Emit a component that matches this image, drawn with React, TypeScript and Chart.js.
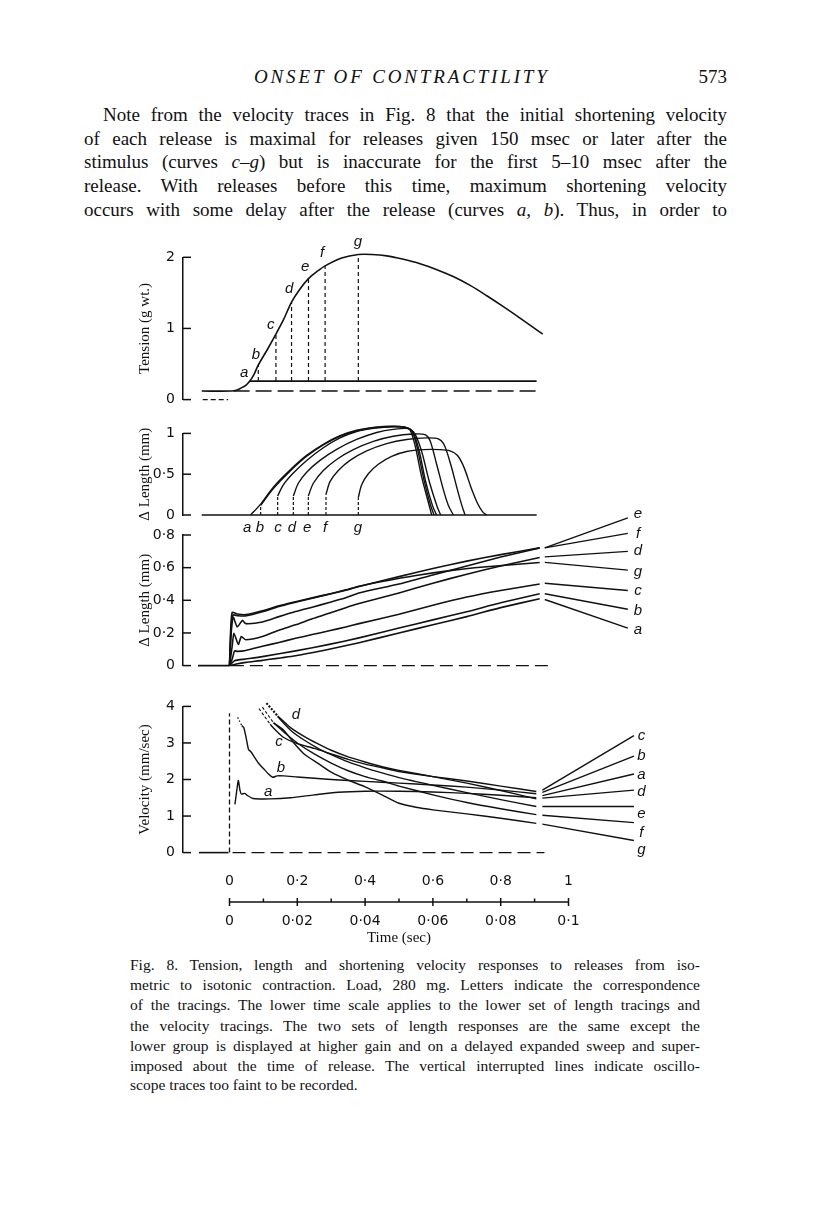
import React, { useEffect, useRef } from 'react';
import { Chart, registerables } from 'chart.js';

Chart.register(...registerables);

type Pt = [number, number];

const INK = '#111111';
const SANS = '"DejaVu Sans", "Liberation Sans", Arial, sans-serif';
const LETTER_SANS = '"Liberation Sans", Arial, sans-serif';
const SERIF = '"Liberation Serif", "Times New Roman", serif';

const curveLetters = ['a', 'b', 'c', 'd', 'e', 'f', 'g'];

// ================= Panel 1: Tension (g wt.)  — upper time scale (sec) =================
const tensionTicks = [0, 1, 2];
const tensionTrace: Pt[] = [
  [-0.082, 0.12], [0.005, 0.12], [0.02, 0.13], [0.035, 0.165], [0.048, 0.2], [0.06, 0.26],
  [0.072, 0.35], [0.085, 0.487], [0.11, 0.69], [0.134, 0.896], [0.159, 1.12], [0.183, 1.37],
  [0.208, 1.555], [0.233, 1.7], [0.258, 1.8], [0.282, 1.88], [0.331, 1.99], [0.38, 2.04],
  [0.42, 2.04], [0.464, 2.02], [0.51, 1.975], [0.562, 1.91], [0.61, 1.83], [0.66, 1.73],
  [0.71, 1.605], [0.759, 1.46], [0.81, 1.3], [0.857, 1.146], [0.924, 0.92],
];
const tensionLoadLine: Pt[] = [[0.06, 0.26], [0.906, 0.26]];
const tensionRestLine: Pt[] = [[0.012, 0.12], [0.911, 0.12]];
const tensionZeroLine: Pt[] = [[-0.079, 0], [-0.004, 0]];
const tensionLoadLevel = 0.26;
const tensionReleaseT = [0.085, 0.137, 0.183, 0.233, 0.282, 0.38];
const tensionReleaseTop = [0.487, 0.93, 1.37, 1.7, 1.88, 2.04];
const tensionLabelT = [0.043, 0.078, 0.122, 0.176, 0.223, 0.273, 0.379];
const tensionLabelV = [0.38, 0.63, 1.05, 1.56, 1.86, 2.06, 2.22];

// ================= Panel 2: Δ Length (mm) — upper time scale =================
const upLenTicks = [0, 0.5, 1];
const upLenBaseline: Pt[] = [[-0.082, 0], [0.906, 0]];
const upLenA: Pt[] = [[0.0624, 0], [0.09, 0.124], [0.1293, 0.342], [0.1785, 0.552], [0.2276, 0.731], [0.2768, 0.867], [0.326, 0.972], [0.3751, 1.038], [0.4243, 1.074], [0.4833, 1.089], [0.5177, 1.077], [0.5324, 1.042], [0.5472, 0.856], [0.5669, 0.467], [0.5865, 0.156], [0.5964, 0]];
const upLenB: Pt[] = [[0.0919, 0.117], [0.1293, 0.323], [0.1785, 0.537], [0.2276, 0.72], [0.2768, 0.86], [0.326, 0.965], [0.3751, 1.031], [0.4243, 1.07], [0.4833, 1.085], [0.5226, 1.07], [0.5393, 1.019], [0.5541, 0.817], [0.5738, 0.428], [0.5934, 0.117], [0.6033, 0]];
const upLenC: Pt[] = [[0.1421, 0.2335], [0.1588, 0.3696], [0.1883, 0.5135], [0.2276, 0.669], [0.2768, 0.8246], [0.326, 0.9452], [0.3751, 1.023], [0.4243, 1.062], [0.4833, 1.081], [0.5256, 1.066], [0.5423, 1.004], [0.559, 0.7974], [0.5787, 0.4084], [0.5993, 0.109], [0.6111, 0]];
const upLenD: Pt[] = [[0.1883, 0.2335], [0.203, 0.389], [0.2276, 0.525], [0.2669, 0.669], [0.3161, 0.805], [0.3751, 0.9258], [0.4342, 1.0113], [0.4833, 1.05], [0.5276, 1.058], [0.5472, 0.992], [0.5669, 0.778], [0.5895, 0.408], [0.6129, 0.097], [0.6229, 0]];
const upLenE: Pt[] = [[0.2325, 0.2335], [0.2473, 0.389], [0.2768, 0.5446], [0.3161, 0.6807], [0.3653, 0.8013], [0.4243, 0.9024], [0.4833, 0.9646], [0.5423, 0.992], [0.5767, 0.984], [0.5914, 0.914], [0.611, 0.6224], [0.6308, 0.3112], [0.6457, 0.117], [0.6603, 0]];
const upLenF: Pt[] = [[0.2846, 0.2529], [0.2965, 0.4084], [0.321, 0.5446], [0.3554, 0.669], [0.4046, 0.7857], [0.4636, 0.8752], [0.5226, 0.9257], [0.5816, 0.9452], [0.616, 0.9335], [0.6328, 0.8636], [0.6524, 0.6224], [0.6722, 0.3112], [0.6849, 0.1246], [0.6948, 0]];
const upLenG: Pt[] = [[0.38, 0.214], [0.3899, 0.3696], [0.4095, 0.5057], [0.439, 0.6224], [0.4784, 0.7196], [0.5226, 0.778], [0.5718, 0.8013], [0.6209, 0.8013], [0.6504, 0.7858], [0.6721, 0.7313], [0.6918, 0.5835], [0.7114, 0.3501], [0.7311, 0.1478], [0.7468, 0.0389], [0.7586, 0]];
const upLenReleaseT = [0.0919, 0.1421, 0.1883, 0.2325, 0.2846, 0.38];
const upLenReleaseV = [0.117, 0.2335, 0.2335, 0.2335, 0.2529, 0.214];
const upLenLabelT = [0.052, 0.09, 0.143, 0.184, 0.229, 0.282, 0.379];
const upLenLabelV = -0.155;

// ================= Panel 3: Δ Length (mm) — lower time scale (sec) =================
const lowLenTicks = [0, 0.2, 0.4, 0.6, 0.8];
const lowLenBaseline: Pt[] = [[-0.0093, 0], [0, 0]];
const lowLenDashed: Pt[] = [[0.0004, 0], [0.094, 0]];
const lowLenA: Pt[] = [[0, 0], [0.002, 0.01], [0.0048, 0.02], [0.0097, 0.032], [0.0195, 0.06], [0.0294, 0.1], [0.0382, 0.14], [0.05, 0.2], [0.06, 0.25], [0.07, 0.3], [0.08, 0.355], [0.0915, 0.41]];
const lowLenB: Pt[] = [[0, 0], [0.0015, 0.03], [0.0048, 0.04], [0.0097, 0.055], [0.0195, 0.09], [0.0294, 0.13], [0.0382, 0.17], [0.05, 0.23], [0.06, 0.28], [0.07, 0.33], [0.08, 0.385], [0.0915, 0.44]];
const lowLenC: Pt[] = [[0, 0], [0.0008, 0.04], [0.0015, 0.09], [0.0023, 0.087], [0.0048, 0.093], [0.0097, 0.118], [0.0146, 0.142], [0.0195, 0.167], [0.0244, 0.19], [0.0294, 0.213], [0.0343, 0.237], [0.0382, 0.257], [0.05, 0.315], [0.06, 0.37], [0.07, 0.42], [0.08, 0.46], [0.0915, 0.5]];
const lowLenD: Pt[] = [[0, 0], [0.0008, 0.12], [0.0013, 0.198], [0.0026, 0.13], [0.0035, 0.178], [0.0048, 0.158], [0.0097, 0.178], [0.0146, 0.217], [0.0195, 0.25], [0.0244, 0.287], [0.0294, 0.32], [0.0343, 0.355], [0.0382, 0.38], [0.05, 0.445], [0.06, 0.505], [0.07, 0.56], [0.08, 0.61], [0.0915, 0.662]];
const lowLenE: Pt[] = [[0, 0], [0.0005, 0.2], [0.0011, 0.296], [0.0023, 0.237], [0.0038, 0.277], [0.0048, 0.257], [0.0097, 0.267], [0.0146, 0.3], [0.0195, 0.331], [0.0244, 0.358], [0.0294, 0.386], [0.0343, 0.415], [0.0382, 0.445], [0.05, 0.5], [0.06, 0.555], [0.07, 0.61], [0.08, 0.665], [0.0915, 0.721]];
const lowLenF: Pt[] = [[0, 0], [0.0004, 0.2], [0.001, 0.31], [0.0025, 0.305], [0.005, 0.305], [0.0097, 0.33], [0.0146, 0.362], [0.0195, 0.388], [0.0244, 0.413], [0.0294, 0.437], [0.0343, 0.462], [0.0382, 0.484], [0.05, 0.545], [0.06, 0.595], [0.07, 0.64], [0.08, 0.68], [0.0915, 0.721]];
const lowLenG: Pt[] = [[0, 0], [0.00035, 0.22], [0.0008, 0.326], [0.0023, 0.316], [0.0048, 0.312], [0.0097, 0.336], [0.0146, 0.366], [0.0195, 0.391], [0.0244, 0.415], [0.0294, 0.439], [0.0343, 0.464], [0.0382, 0.486], [0.045, 0.515], [0.055, 0.552], [0.065, 0.582], [0.075, 0.604], [0.0915, 0.632]];
const lowLenFanT = [0.093, 0.1175];
const lowLenFanStart = [0.405, 0.44, 0.504, 0.666, 0.721, 0.721, 0.632];
const lowLenFanEnd = [0.23, 0.345, 0.46, 0.7, 0.905, 0.81, 0.585];
const lowLenLabelT = 0.1205;
const lowLenLabelV = [0.22, 0.337, 0.46, 0.7, 0.93, 0.81, 0.575];

// ================= Panel 4: Velocity (mm/sec) — lower time scale =================
const velTicks = [0, 1, 2, 3, 4];
const velBaseline: Pt[] = [[-0.009, 0], [-0.0003, 0]];
const velDashedBase: Pt[] = [[0.0009, 0], [0.0929, 0]];
const velReleaseLine: Pt[] = [[0, 0], [0, 3.81]];
const velLeader1: Pt[] = [[0.0087, 3.94], [0.012, 3.51]];
const velLeader2: Pt[] = [[0.0097, 3.98], [0.013, 3.55]];
const velLeader3: Pt[] = [[0.0109, 4.09], [0.0142, 3.74]];
const velLeaderB: Pt[] = [[0.0024, 3.7], [0.0036, 3.48]];
const velA: Pt[] = [[0.0016, 1.32], [0.002, 1.6], [0.0026, 1.97], [0.0031, 1.7], [0.0035, 1.6], [0.0045, 1.62], [0.0055, 1.55], [0.007, 1.48], [0.012, 1.47], [0.018, 1.5], [0.025, 1.58], [0.032, 1.65], [0.04, 1.68], [0.05, 1.68], [0.06, 1.66], [0.07, 1.62], [0.08, 1.57], [0.0905, 1.5]];
const velB: Pt[] = [[0.0036, 3.48], [0.0042, 3.42], [0.005, 3.1], [0.0056, 2.82], [0.0063, 2.76], [0.0073, 2.62], [0.0085, 2.45], [0.01, 2.3], [0.0115, 2.15], [0.0128, 2.06], [0.014, 2.1], [0.016, 2.1], [0.02, 2.07], [0.03, 2.0], [0.04, 1.95], [0.05, 1.9], [0.06, 1.85], [0.07, 1.79], [0.08, 1.71], [0.0905, 1.61]];
const velC: Pt[] = [[0.012, 3.51], [0.0135, 3.36], [0.016, 3.15], [0.02, 2.98], [0.025, 2.85], [0.03, 2.7], [0.035, 2.55], [0.04, 2.42], [0.045, 2.32], [0.05, 2.22], [0.06, 2.08], [0.07, 1.96], [0.08, 1.82], [0.0905, 1.67]];
const velD: Pt[] = [[0.0142, 3.74], [0.018, 3.42], [0.022, 3.18], [0.026, 2.98], [0.03, 2.8], [0.035, 2.62], [0.04, 2.48], [0.045, 2.35], [0.05, 2.25], [0.06, 2.08], [0.07, 1.9], [0.08, 1.7], [0.0905, 1.47]];
const velE: Pt[] = [[0.0142, 3.72], [0.018, 3.35], [0.022, 3.08], [0.026, 2.86], [0.03, 2.68], [0.035, 2.48], [0.04, 2.32], [0.045, 2.18], [0.05, 2.05], [0.06, 1.84], [0.07, 1.64], [0.08, 1.45], [0.0905, 1.26]];
const velF: Pt[] = [[0.013, 3.55], [0.016, 3.3], [0.02, 3.0], [0.025, 2.7], [0.03, 2.45], [0.035, 2.24], [0.04, 2.08], [0.045, 1.96], [0.05, 1.82], [0.06, 1.58], [0.07, 1.37], [0.08, 1.2], [0.0905, 1.04]];
const velG: Pt[] = [[0.013, 3.55], [0.016, 3.35], [0.019, 3.0], [0.022, 2.7], [0.026, 2.45], [0.03, 2.2], [0.035, 1.98], [0.04, 1.8], [0.045, 1.58], [0.05, 1.35], [0.055, 1.24], [0.06, 1.17], [0.07, 1.06], [0.08, 0.94], [0.0905, 0.8]];
const velFanT = [0.0923, 0.1193];
const velFanStart = [1.56, 1.65, 1.71, 1.49, 1.26, 1.02, 0.78];
const velFanEnd = [2.15, 2.64, 3.2, 1.71, 1.26, 0.82, 0.33];
const velLabelT = 0.1215;
const velLabelV = [2.12, 2.64, 3.2, 1.65, 1.06, 0.54, 0.07];
const velInnerLabelT = [0.0114, 0.0152, 0.0146, 0.0196];
const velInnerLabelV = [1.65, 2.31, 3.02, 3.76];

// ================= Time scales =================
const upperTimeTicks = [0, 0.2, 0.4, 0.6, 0.8, 1];
const lowerTimeTicks = [0, 0.02, 0.04, 0.06, 0.08, 0.1];

// ================= Layout constants =================
const CANVAS_LEFT = 120;
const CANVAS_RIGHT = 660;
const T0_PX = 229.5;
const UPPER_PX_PER_UNIT = 339;
const LOWER_PX_PER_UNIT = 3390;

const fmt = (v: number) => String(+Number(v).toFixed(2)).replace('.', '·');

const trace = (pts: Pt[], extra: Record<string, unknown> = {}) => ({
  data: pts.map(([x, y]) => ({ x, y })),
  borderColor: INK,
  backgroundColor: INK,
  borderWidth: 1.6,
  pointRadius: 0,
  fill: false,
  clip: false,
  tension: 0.3,
  ...extra,
});
const dashed = (pts: Pt[], dash: number[], w = 1.4) =>
  trace(pts, { borderDash: dash, borderWidth: w, tension: 0 });

const paperPlugin = {
  id: 'paper',
  afterDraw(chart: any, _args: any, opts: any) {
    const { ctx } = chart;
    const x = chart.scales.x;
    const y = chart.scales.y;
    ctx.save();
    ctx.strokeStyle = INK;
    ctx.lineWidth = 1.5;
    const ax = chart.chartArea.left;
    for (const t of y.ticks) {
      const py = y.getPixelForValue(t.value);
      ctx.beginPath();
      ctx.moveTo(ax, py);
      ctx.lineTo(ax + 8, py);
      ctx.stroke();
    }
    ctx.fillStyle = INK;
    ctx.font = `italic 15px ${LETTER_SANS}`;
    ctx.textAlign = 'center';
    ctx.textBaseline = 'middle';
    for (const l of opts.labels || []) {
      ctx.fillText(l.text, x.getPixelForValue(l.t), y.getPixelForValue(l.v));
    }
    ctx.restore();
  },
};

const timeAxisPlugin = {
  id: 'timeAxis',
  afterDraw(chart: any) {
    const { ctx, chartArea } = chart;
    const xs = chart.scales.xt;
    const yMid = (chartArea.top + chartArea.bottom) / 2;
    ctx.save();
    ctx.strokeStyle = INK;
    ctx.lineWidth = 1.5;
    ctx.beginPath();
    ctx.moveTo(xs.getPixelForValue(xs.min), yMid);
    ctx.lineTo(xs.getPixelForValue(xs.max), yMid);
    ctx.stroke();
    const vals = xs.ticks.map((t: any) => t.value);
    vals.forEach((v: number, i: number) => {
      const px = xs.getPixelForValue(v);
      ctx.beginPath();
      ctx.moveTo(px, yMid - 4);
      ctx.lineTo(px, yMid + 4);
      ctx.stroke();
      if (i < vals.length - 1) {
        const mx = xs.getPixelForValue((v + vals[i + 1]) / 2);
        ctx.beginPath();
        ctx.moveTo(mx, yMid - 3.5);
        ctx.lineTo(mx, yMid);
        ctx.stroke();
      }
    });
    ctx.restore();
  },
};

interface PanelSpec {
  yTopPx: number;
  yBottomPx: number;
  padTop: number;
  padBottom: number;
  axisPx: number;
  pxPerUnit: number;
  yMax: number;
  yTicks: number[];
  title: string;
  datasets: any[];
  labels: { t: number; v: number; text: string }[];
}

function geometry(p: PanelSpec) {
  const top = Math.floor(p.yTopPx - p.padTop);
  const height = Math.ceil(p.yBottomPx + p.padBottom - top);
  return { top, height, padTop: p.yTopPx - top, padBottom: top + height - p.yBottomPx };
}

function panelConfig(p: PanelSpec): any {
  const g = geometry(p);
  const W = p.axisPx - CANVAS_LEFT;
  return {
    type: 'line',
    data: { datasets: p.datasets },
    options: {
      responsive: false,
      animation: false,
      devicePixelRatio: 1,
      events: [],
      layout: { padding: { top: g.padTop, bottom: g.padBottom, left: 0, right: 0 } },
      elements: { line: { capBezierPoints: false }, point: { radius: 0 } },
      plugins: {
        legend: { display: false },
        tooltip: { enabled: false },
        colors: { enabled: false },
        paper: { labels: p.labels },
      },
      scales: {
        x: {
          type: 'linear',
          display: false,
          min: (p.axisPx - T0_PX) / p.pxPerUnit,
          max: (CANVAS_RIGHT - T0_PX) / p.pxPerUnit,
        },
        y: {
          type: 'linear',
          position: 'left',
          min: 0,
          max: p.yMax,
          afterFit: (s: any) => {
            s.width = W;
          },
          afterBuildTicks: (s: any) => {
            s.ticks = p.yTicks.map((value) => ({ value }));
          },
          ticks: {
            padding: 8,
            color: INK,
            font: { family: SANS, size: 14 },
            callback: (v: number) => fmt(v),
          },
          grid: { display: false, drawTicks: false },
          border: { display: true, color: INK, width: 1.5 },
          title: {
            display: true,
            text: p.title,
            color: INK,
            font: { family: SERIF, size: 15 },
            padding: { top: 16.5, bottom: 0 },
          },
        },
      },
    },
    plugins: [paperPlugin],
  };
}

function ChartCanvas({ left, top, width, height, config }: { left: number; top: number; width: number; height: number; config: () => any }) {
  const ref = useRef<HTMLCanvasElement>(null);
  useEffect(() => {
    const chart = new Chart(ref.current as HTMLCanvasElement, config());
    return () => chart.destroy();
  }, []);
  return (
    <canvas
      ref={ref}
      width={width}
      height={height}
      style={{ position: 'absolute', left, top, width, height }}
    />
  );
}

function Panel({ spec }: { spec: PanelSpec }) {
  const g = geometry(spec);
  return (
    <ChartCanvas
      left={CANVAS_LEFT}
      top={g.top}
      width={CANVAS_RIGHT - CANVAS_LEFT}
      height={g.height}
      config={() => panelConfig(spec)}
    />
  );
}

const letterLabels = (ts: number[], vs: number[]) =>
  curveLetters.map((text, i) => ({ text, t: ts[i], v: vs[i] }));

const tensionSpec: PanelSpec = {
  yTopPx: 257.3,
  yBottomPx: 404,
  padTop: 20,
  padBottom: 12,
  axisPx: 183,
  pxPerUnit: UPPER_PX_PER_UNIT,
  yMax: 2,
  yTicks: tensionTicks,
  title: 'Tension (g wt.)',
  datasets: [
    trace(tensionTrace),
    trace(tensionLoadLine, { tension: 0 }),
    dashed(tensionRestLine, [16, 6], 1.5),
    dashed(tensionZeroLine, [5, 3], 1.3),
    ...tensionReleaseT.map((t, i) =>
      dashed([[t, tensionLoadLevel], [t, tensionReleaseTop[i]]], [4, 3], 1.2)
    ),
  ],
  labels: letterLabels(tensionLabelT, tensionLabelV),
};

const upLenSpec: PanelSpec = {
  yTopPx: 429.3,
  yBottomPx: 515,
  padTop: 12,
  padBottom: 22,
  axisPx: 183,
  pxPerUnit: UPPER_PX_PER_UNIT,
  yMax: 1,
  yTicks: upLenTicks,
  title: 'Δ Length (mm)',
  datasets: [
    trace(upLenBaseline, { tension: 0 }),
    ...[upLenA, upLenB, upLenC, upLenD, upLenE, upLenF, upLenG].map((c) => trace(c, { borderWidth: 1.4 })),
    ...upLenReleaseT.map((t, i) => dashed([[t, 0], [t, upLenReleaseV[i]]], [3, 2], 1.2)),
  ],
  labels: curveLetters.map((text, i) => ({ text, t: upLenLabelT[i], v: upLenLabelV })),
};

const lowLenSpec: PanelSpec = {
  yTopPx: 535,
  yBottomPx: 670,
  padTop: 32,
  padBottom: 12,
  axisPx: 183,
  pxPerUnit: LOWER_PX_PER_UNIT,
  yMax: 0.8,
  yTicks: lowLenTicks,
  title: 'Δ Length (mm)',
  datasets: [
    trace(lowLenBaseline, { tension: 0 }),
    dashed(lowLenDashed, [13, 6], 1.4),
    ...[lowLenA, lowLenB, lowLenC, lowLenD, lowLenE, lowLenF, lowLenG].map((c) => trace(c, { tension: 0.2 })),
    ...curveLetters.map((_, i) =>
      trace([[lowLenFanT[0], lowLenFanStart[i]], [lowLenFanT[1], lowLenFanEnd[i]]], { tension: 0, borderWidth: 1.4 })
    ),
  ],
  labels: curveLetters.map((text, i) => ({ text, t: lowLenLabelT, v: lowLenLabelV[i] })),
};

const velSpec: PanelSpec = {
  yTopPx: 702.7,
  yBottomPx: 856.7,
  padTop: 12,
  padBottom: 12,
  axisPx: 183,
  pxPerUnit: LOWER_PX_PER_UNIT,
  yMax: 4,
  yTicks: velTicks,
  title: 'Velocity (mm/sec)',
  datasets: [
    trace(velBaseline, { tension: 0 }),
    dashed(velDashedBase, [13, 6], 1.4),
    dashed(velReleaseLine, [5, 3], 1.3),
    dashed(velLeader1, [3, 2], 1.1),
    dashed(velLeader2, [3, 2], 1.1),
    dashed(velLeader3, [2, 1.5], 2.2),
    dashed(velLeaderB, [1.5, 2], 1.2),
    ...[velA, velB, velC, velD, velE, velF, velG].map((c) => trace(c, { tension: 0.2, borderWidth: 1.4 })),
    ...curveLetters.map((_, i) =>
      trace([[velFanT[0], velFanStart[i]], [velFanT[1], velFanEnd[i]]], { tension: 0, borderWidth: 1.4 })
    ),
  ],
  labels: [
    ...curveLetters.map((text, i) => ({ text, t: velLabelT, v: velLabelV[i] })),
    ...['a', 'b', 'c', 'd'].map((text, i) => ({ text, t: velInnerLabelT[i], v: velInnerLabelV[i] })),
  ],
};

function timeAxisConfig(): any {
  const tickFont = { family: SANS, size: 14 };
  return {
    type: 'line',
    data: { datasets: [] },
    options: {
      responsive: false,
      animation: false,
      devicePixelRatio: 1,
      events: [],
      layout: { padding: { left: T0_PX - 200, right: 600 - (T0_PX + UPPER_PX_PER_UNIT), top: 0, bottom: 0 } },
      plugins: { legend: { display: false }, tooltip: { enabled: false }, colors: { enabled: false } },
      scales: {
        xt: {
          axis: 'x',
          type: 'linear',
          position: 'top',
          min: 0,
          max: 1,
          afterBuildTicks: (s: any) => {
            s.ticks = upperTimeTicks.map((value) => ({ value }));
          },
          ticks: { padding: 5.6, color: INK, font: tickFont, callback: (v: number) => fmt(v), maxRotation: 0, autoSkip: false },
          grid: { display: false, drawTicks: false },
          border: { display: false },
        },
        xb: {
          axis: 'x',
          type: 'linear',
          position: 'bottom',
          min: 0,
          max: 0.1,
          afterBuildTicks: (s: any) => {
            s.ticks = lowerTimeTicks.map((value) => ({ value }));
          },
          ticks: { padding: 4, color: INK, font: tickFont, callback: (v: number) => fmt(v), maxRotation: 0, autoSkip: false },
          grid: { display: false, drawTicks: false },
          border: { display: false },
          title: {
            display: true,
            text: 'Time (sec)',
            color: INK,
            font: { family: SERIF, size: 15 },
            padding: { top: 7, bottom: 4 },
          },
        },
        y: { display: false, min: 0, max: 1 },
      },
    },
    plugins: [timeAxisPlugin],
  };
}

const paragraphLines: { indent: boolean; y: number; node: React.ReactNode }[] = [
  { indent: true, y: 115, node: <>Note from the velocity traces in Fig. 8 that the initial shortening velocity</> },
  { indent: false, y: 139, node: <>of each release is maximal for releases given 150 msec or later after the</> },
  { indent: false, y: 162, node: <>stimulus (curves <i>c</i>–<i>g</i>) but is inaccurate for the first 5–10 msec after the</> },
  { indent: false, y: 186, node: <>release. With releases before this time, maximum shortening velocity</> },
  { indent: false, y: 210, node: <>occurs with some delay after the release (curves <i>a</i>, <i>b</i>). Thus, in order to</> },
];

const captionLines: { y: number; text: string; last?: boolean }[] = [
  { y: 965, text: 'Fig. 8. Tension, length and shortening velocity responses to releases from iso-' },
  { y: 985, text: 'metric to isotonic contraction. Load, 280 mg. Letters indicate the correspondence' },
  { y: 1005, text: 'of the tracings. The lower time scale applies to the lower set of length tracings and' },
  { y: 1026, text: 'the velocity tracings. The two sets of length responses are the same except the' },
  { y: 1046, text: 'lower group is displayed at higher gain and on a delayed expanded sweep and super-' },
  { y: 1066, text: 'imposed about the time of release. The vertical interrupted lines indicate oscillo-' },
  { y: 1085, text: 'scope traces too faint to be recorded.', last: true },
];

export default function App() {
  return (
    <div style={{ position: 'absolute', left: 0, top: 0, width: 816, height: 1221, background: '#fff', color: INK, overflow: 'hidden' }}>
      <div style={{ position: 'absolute', left: 254, top: 66, font: `italic 19px ${SERIF}`, letterSpacing: '2.85px', lineHeight: '22px', whiteSpace: 'nowrap' }}>
        ONSET OF CONTRACTILITY
      </div>
      <div style={{ position: 'absolute', left: 687, top: 66, width: 40, textAlign: 'right', font: `19px ${SERIF}`, lineHeight: '22px' }}>573</div>
      {paragraphLines.map((l, i) => (
        <div
          key={i}
          style={{
            position: 'absolute',
            left: l.indent ? 103 : 84,
            width: l.indent ? 624 : 643,
            top: l.y - 12,
            font: `19px ${SERIF}`,
            lineHeight: '24px',
            textAlign: 'justify',
            textAlignLast: 'justify',
          }}
        >
          {l.node}
        </div>
      ))}
      <Panel spec={tensionSpec} />
      <Panel spec={upLenSpec} />
      <Panel spec={lowLenSpec} />
      <Panel spec={velSpec} />
      <ChartCanvas left={200} top={867} width={400} height={84} config={timeAxisConfig} />
      {captionLines.map((l, i) => (
        <div
          key={i}
          style={{
            position: 'absolute',
            left: 130,
            width: 570,
            top: l.y - 10,
            font: `15.5px ${SERIF}`,
            lineHeight: '20px',
            textAlign: l.last ? 'left' : 'justify',
            textAlignLast: l.last ? 'auto' : 'justify',
          }}
        >
          {l.text}
        </div>
      ))}
    </div>
  );
}
